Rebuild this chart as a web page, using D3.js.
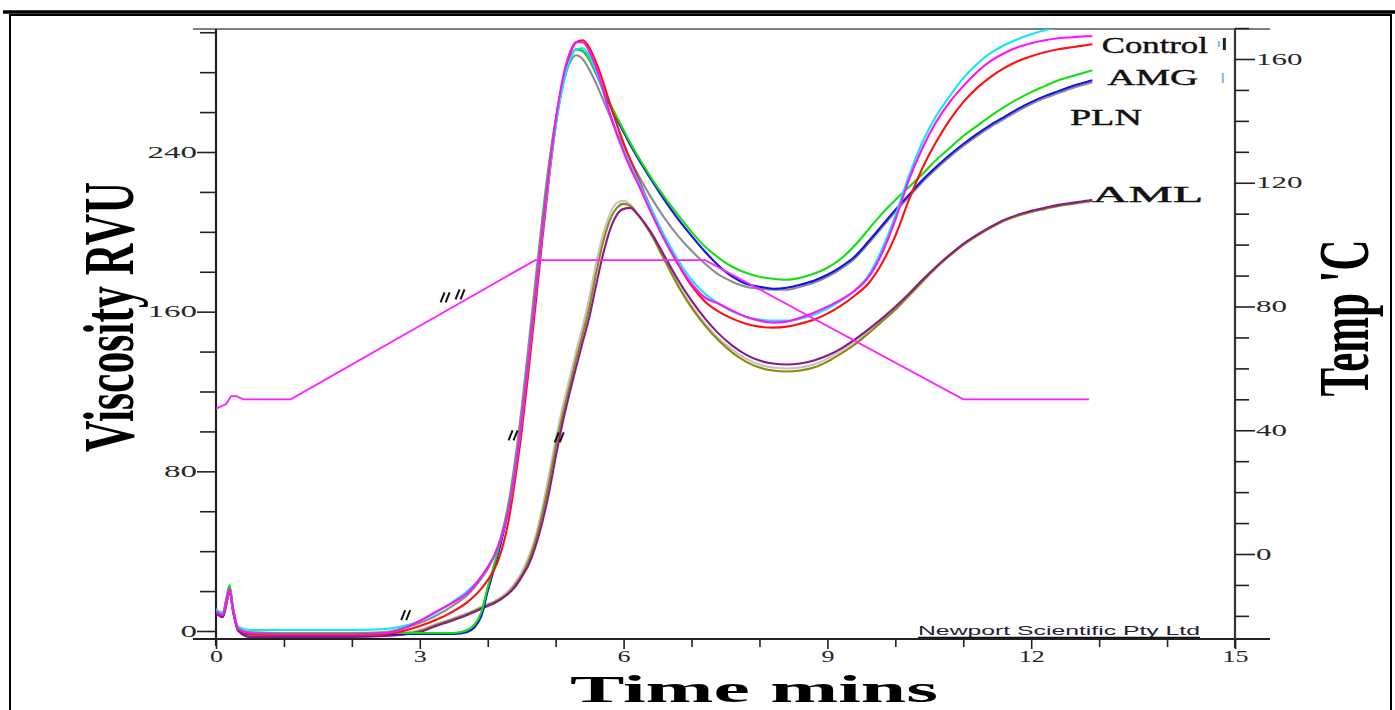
<!DOCTYPE html>
<html>
<head>
<meta charset="utf-8">
<script src="https://cdn.jsdelivr.net/npm/d3@7"></script>
<style>
  body { margin: 0; background: #fff; }
  svg { display: block; }
</style>
</head>
<body>
<svg id="chart" width="1395" height="710"></svg>
<script>
// ---- RVA pasting profiles: viscosity (RVU) against time (min) ----
const time = [
  0, 0.1, 0.15, 0.2, 0.25, 0.33, 0.5, 1, 1.5, 2, 2.5,
  2.7, 3, 3.2, 3.5, 3.7, 3.9, 4, 4.1, 4.2, 4.3, 4.4, 4.5, 4.6,
  4.7, 4.8, 4.9, 5, 5.1, 5.2, 5.3, 5.4, 5.5, 5.6, 5.7, 5.8, 5.9, 6, 6.1, 6.2,
  6.4, 6.6, 6.8, 7, 7.2, 7.4, 7.6, 7.8, 8, 8.2, 8.4, 8.6, 8.8, 9, 9.2, 9.4, 9.6, 9.8,
  10, 10.2, 10.4, 10.6, 10.8, 11, 11.2, 11.4, 11.6, 11.8, 12, 12.2, 12.4, 12.6, 12.8, 12.9
];

const cyanRun = [
  11, 9, 15, 21, 11, 2, 0.5, 0.5, 0.5, 0.5, 1,
  2, 5, 8.5, 15, 20, 27, 32, 38, 47, 60, 80, 106, 136,
  168, 199, 228, 253, 272, 285, 291.5, 292, 288, 280, 270, 259, 249.5, 241, 233.5, 226.5,
  212, 198, 186, 176, 169, 164, 160, 157.5, 156, 155.5, 155.5, 156.5, 158.5, 161.5, 165.5, 170.5, 178, 191,
  208, 228, 245, 258, 268, 277, 284, 289.5, 293.5, 296.5, 299, 301, 302.5, 303.5, 304.5, 305
];
const magentaRun = [
  10, 8, 15, 21, 11, 1, -1, -1.5, -1.5, -1.5, -1,
  0.5, 5, 9, 14.5, 19, 27, 32, 38, 47, 60, 80, 106, 136,
  168, 200, 230, 256, 276, 289, 295, 295, 290, 282, 271, 259, 249, 240, 232, 225,
  210, 196, 184, 174, 167, 164, 160.5, 157.5, 155.5, 154.5, 155, 157, 159.5, 162.5, 166, 170.5, 177, 189,
  206, 226, 242, 255, 265, 273, 280, 285.5, 289.5, 292.5, 294.5, 296, 297, 297.5, 298, 298
];
const redRun = [
  10, 8, 14, 20, 11, 1, -1.5, -2, -2, -2, -1.5,
  -0.5, 2.5, 5, 10, 14.5, 21, 25.5, 31, 40, 54, 75, 100, 130,
  162, 195, 226, 253, 274, 288, 295, 296, 292, 284.5, 275, 264, 254, 244.5, 236, 228,
  212, 197, 184, 173, 165, 160, 156.5, 154, 152.5, 152, 152.5, 154, 156, 159, 163, 168, 174, 184,
  198, 216, 232, 245, 256, 265, 272, 277.5, 282, 285.5, 288, 290, 291.5, 292.5, 293.5, 294
];
const greenRun = [
  10, 9, 16, 23, 12, 1, -1, -1, -1, -1, -1,
  -1, -1, -1, -1, 0.5, 9, 22, 34, 47, 62, 82, 108, 138,
  170, 203, 232, 256, 274, 286, 291.5, 290.5, 286, 279.5, 272, 264.5, 257.5, 251, 244.5, 238.5,
  227.5, 217.5, 208.5, 200, 192.5, 187, 182.5, 179.5, 177.5, 176.5, 176, 177, 179, 182, 186.5, 193, 201, 209,
  216, 222.5, 229, 236, 242, 248, 253, 258, 262.5, 266.5, 270, 273, 276, 278, 280, 281
];
const blueRun = [
  10, 8, 15, 22, 11, 1, -1.5, -1.5, -1.5, -1.5, -1.5,
  -1.5, -1.5, -1.5, -1.5, -0.5, 7, 20, 32, 45, 60, 80, 106, 136,
  168, 201, 230, 255, 273, 285.5, 291.5, 290.5, 286, 279, 271, 263.5, 256.5, 250, 243.5, 237.5,
  226.5, 216, 206.5, 198, 190, 183, 177.5, 174, 172.5, 171.5, 172, 173.5, 175.5, 178.5, 182.5, 187.5, 195, 203,
  211, 218.5, 226, 232.5, 238.5, 244, 249, 253.5, 257.5, 261.5, 265, 268, 270.5, 273, 275, 276
];
const grayRun = [
  10, 8, 14, 21, 11, 1, -0.5, -1, -1, -1, -0.5,
  1, 4, 7, 13, 18, 26, 31, 38, 48, 63, 85, 112, 143,
  175, 206, 234, 256, 273, 284, 288.5, 286.5, 281, 274, 266, 258, 250, 243, 236, 229.5,
  217.5, 207, 198, 190.5, 184, 178.5, 175, 172.5, 171.5, 171, 171, 172.5, 174.5, 177.5, 181.5, 186.5, 194, 202,
  210, 217.5, 225, 231.5, 237.5, 243, 248, 252.5, 256.5, 260.5, 264, 267, 269.5, 272, 274, 275
];
const oliveRun = [
  9, 7, 13, 20, 10, 0, -2, -2.5, -2.5, -2.5, -2,
  -1.5, 0, 2.5, 6, 8.5, 11.5, 13, 14.5, 16.5, 19, 23, 28, 35,
  45, 58, 74, 92, 108, 122, 136, 149, 163, 180, 195, 206, 212, 214, 213, 209,
  199, 186, 173, 162, 153, 145.5, 139.5, 135, 132, 130.5, 130, 130.5, 132, 135, 139, 143.5, 149, 155,
  161, 168, 175, 182, 188, 193.5, 198, 202, 205.5, 208, 210, 211.5, 213, 214, 215, 215.5
];
const purpleRun = [
  9, 7, 13, 20, 10, 0, -3, -3, -3, -3, -2.5,
  -2, -0.5, 2, 5.5, 8, 11, 12.5, 14, 16, 18.5, 22, 27, 33,
  42, 54, 69, 87, 104, 118.5, 132, 145, 158, 174, 189, 201, 208.5, 211.5, 212, 209,
  200, 188, 176, 165.5, 156.5, 149, 143, 138.5, 135.5, 134, 133.5, 134, 135.5, 138, 141.5, 146, 151, 156.5,
  162.5, 169, 176, 182.5, 188.5, 194, 198.5, 202.5, 206, 208.5, 210.5, 212, 213.5, 214.5, 215.5, 216
];
const silverRun = [
  9, 7, 13, 20, 10, 0, -2, -2, -2, -2, -1.5,
  -1, 0.5, 3, 6.5, 9, 12, 13.5, 15, 17, 20, 24, 29.5, 37,
  47, 61, 78, 96, 112, 126, 140, 153, 168, 185, 199, 209, 214.5, 215.5, 213.5, 209.5,
  199, 186.5, 174, 163, 154, 146.5, 141, 136.5, 133.5, 132, 131.5, 132, 133.5, 136.5, 140.5, 145, 150.5, 156,
  162, 168.5, 175.5, 182, 188, 193.5, 198, 202, 205.5, 208, 210, 211.5, 213, 214, 215, 215.5
];

// Standard temperature programme (°C)
const tempTime   = [0, 0.15, 0.22, 0.3, 0.4, 1.1, 4.7, 7.2, 11.0, 12.85];
const tempValues = [47, 48.5, 51, 51, 50, 50, 95, 95, 50, 50];

// Run labels at the end of the curves
const runLabels = ["Control", "AMG", "PLN", "AML"];
const labelTime = [13.04, 13.12, 12.57, 12.9];
const labelVisc = [289.6, 273.6, 253.5, 215];

// Pasting-point markers: [time, value, axis]
const markTime  = [2.8, 4.38, 5.06, 3.38, 3.6];
const markValue = [8, 98, 97, 81, 82];
const markAxis  = ["visc", "visc", "visc", "temp", "temp"];

// Axis ticks
const timeTicks  = d3.range(0, 16, 1);
const timeLabels = [0, 3, 6, 9, 12, 15];
const viscTicks  = d3.range(0, 301, 20);
const viscLabels = [0, 80, 160, 240];
const tempTicks  = d3.range(-20, 171, 10);
const tempLabels = [0, 40, 80, 120, 160];

// ---- drawing ----
const svg = d3.select("#chart");
const L = 216, R = 1235, T = 29, B = 639;

const x  = d3.scaleLinear().domain([0, 15]).range([L, R]);
const y  = d3.scaleLinear().domain([0, 240]).range([631, 152]);
const yT = d3.scaleLinear().domain([0, 160]).range([554, 59]);

const serif = "'Liberation Serif', 'Times New Roman', serif";

// page frame
svg.append("line").attr("x1", 3).attr("x2", 1395).attr("y1", 12).attr("y2", 12)
  .attr("stroke", "#000").attr("stroke-width", 3.5);
svg.append("rect").attr("x", 10).attr("y", 15).attr("width", 1381).attr("height", 705)
  .attr("fill", "none").attr("stroke", "#000").attr("stroke-width", 2);

// clip region for the curves
svg.append("defs").append("clipPath").attr("id", "plotClip")
  .append("rect").attr("x", L).attr("y", T).attr("width", R - L).attr("height", B - T);

// plot frame lines
svg.append("line").attr("x1", 193).attr("x2", 1270).attr("y1", T).attr("y2", T)
  .attr("stroke", "#555").attr("stroke-width", 1.5);
svg.append("line").attr("x1", 193).attr("x2", 1270).attr("y1", B).attr("y2", B)
  .attr("stroke", "#222").attr("stroke-width", 2);
svg.append("line").attr("x1", L).attr("x2", L).attr("y1", T).attr("y2", B + 7)
  .attr("stroke", "#222").attr("stroke-width", 2.2);
svg.append("line").attr("x1", R).attr("x2", R).attr("y1", T).attr("y2", B + 9)
  .attr("stroke", "#333").attr("stroke-width", 2.2);

function styleAxis(g, perChar) {
  g.select(".domain").remove();
  g.selectAll(".tick line").attr("stroke", "#222").attr("stroke-width", 1.6);
  g.selectAll(".tick text")
    .attr("font-family", serif).attr("font-size", 16).attr("fill", "#262626")
    .each(function () {
      const s = d3.select(this).text();
      if (s.length) d3.select(this).attr("textLength", s.length * perChar)
        .attr("lengthAdjust", "spacingAndGlyphs");
    });
}

// left viscosity axis
const gLeft = svg.append("g").attr("transform", `translate(${L},0)`)
  .call(d3.axisLeft(y).tickValues(viscTicks).tickSize(16).tickPadding(3)
    .tickFormat(d => viscLabels.includes(d) ? d : ""));
styleAxis(gLeft, 16.5);
gLeft.selectAll(".tick").filter(d => viscLabels.includes(d)).select("line").attr("x2", -19);
gLeft.selectAll(".tick text").attr("x", -19);

// right temperature axis
const gRight = svg.append("g").attr("transform", `translate(${R},0)`)
  .call(d3.axisRight(yT).tickValues(tempTicks).tickSize(14).tickPadding(3)
    .tickFormat(d => tempLabels.includes(d) ? d : ""));
styleAxis(gRight, 15.5);
gRight.selectAll(".tick").filter(d => tempLabels.includes(d)).select("line").attr("x2", 20);
gRight.selectAll(".tick text").attr("x", 21);

// bottom time axis
const gBottom = svg.append("g").attr("transform", `translate(0,${B})`)
  .call(d3.axisBottom(x).tickValues(timeTicks).tickSize(8).tickPadding(5)
    .tickFormat(d => timeLabels.includes(d) ? d : ""));
styleAxis(gBottom, 13);
gBottom.selectAll(".tick").filter(d => timeLabels.includes(d)).select("line").attr("y2", 10);
gBottom.selectAll(".tick text").attr("y", 12);

// axis titles
svg.append("text")
  .attr("transform", `translate(133,317) rotate(-90)`)
  .attr("text-anchor", "middle").attr("font-family", serif).attr("font-weight", "bold")
  .attr("font-size", 71).attr("textLength", 270).attr("lengthAdjust", "spacingAndGlyphs")
  .attr("fill", "#000").text("Viscosity RVU");
svg.append("text")
  .attr("transform", `translate(1368,318) rotate(-90)`)
  .attr("text-anchor", "middle").attr("font-family", serif).attr("font-weight", "bold")
  .attr("font-size", 71).attr("textLength", 157).attr("lengthAdjust", "spacingAndGlyphs")
  .attr("fill", "#000").text("Temp 'C");
svg.append("text")
  .attr("x", 754).attr("y", 701.5)
  .attr("text-anchor", "middle").attr("font-family", serif).attr("font-weight", "bold")
  .attr("font-size", 38).attr("textLength", 368).attr("lengthAdjust", "spacingAndGlyphs")
  .attr("fill", "#000").text("Time mins");

// instrument credit
svg.append("text")
  .attr("x", R - 35).attr("y", 635).attr("text-anchor", "end")
  .attr("font-family", "'Liberation Sans', Arial, sans-serif").attr("font-size", 13)
  .attr("textLength", 282).attr("lengthAdjust", "spacingAndGlyphs")
  .attr("fill", "#223").text("Newport Scientific Pty Ltd");
svg.append("line").attr("x1", R - 317).attr("x2", R - 35).attr("y1", 637.5).attr("y2", 637.5)
  .attr("stroke", "#111").attr("stroke-width", 1.6);

// curves
const plot = svg.append("g").attr("clip-path", "url(#plotClip)");
const viscLine = d3.line().x(d => x(d[0])).y(d => y(d[1])).curve(d3.curveMonotoneX);
const tempLine = d3.line().x(d => x(d[0])).y(d => yT(d[1]));

const runs = [
  { values: silverRun,  color: "#c4c4c4" },
  { values: oliveRun,   color: "#8a8a10" },
  { values: purpleRun,  color: "#8a1a8a" },
  { values: grayRun,    color: "#8c8c8c" },
  { values: blueRun,    color: "#1010f0" },
  { values: greenRun,   color: "#10e010" },
  { values: redRun,     color: "#ff1010" },
  { values: cyanRun,    color: "#10e8f0" },
  { values: magentaRun, color: "#ff10ff" }
];

plot.selectAll("path.run").data(runs).join("path")
  .attr("class", "run")
  .attr("d", r => viscLine(time.map((t, i) => [t, r.values[i]])))
  .attr("fill", "none").attr("stroke", r => r.color).attr("stroke-width", 2.1);

plot.append("path")
  .attr("d", tempLine(tempTime.map((t, i) => [t, tempValues[i]])))
  .attr("fill", "none").attr("stroke", "#ff20ff").attr("stroke-width", 1.8);

// pasting markers (small double strokes)
markTime.forEach((t, i) => {
  const px = x(t);
  const py = markAxis[i] === "temp" ? yT(markValue[i]) - 6 : y(markValue[i]);
  const g = plot.append("g").attr("stroke", "#111").attr("stroke-width", 2).attr("fill", "none");
  g.append("path").attr("d", `M${px - 5},${py + 5} L${px - 1},${py - 5}`);
  g.append("path").attr("d", `M${px},${py + 5} L${px + 4},${py - 5}`);
});

// run labels
const labelWidths = [106, 91, 72, 111];
runLabels.forEach((name, i) => {
  svg.append("text")
    .attr("x", x(labelTime[i])).attr("y", y(labelVisc[i]))
    .attr("font-family", serif).attr("font-size", 24)
    .attr("textLength", labelWidths[i]).attr("lengthAdjust", "spacingAndGlyphs")
    .attr("fill", "#111").attr("stroke", "#111").attr("stroke-width", 0.4)
    .text(name);
});

// small instrument tags beside the first two labels
const tagX = x(labelTime[0]) + labelWidths[0] + 10;
svg.append("rect").attr("x", tagX).attr("y", y(labelVisc[0]) - 12).attr("width", 2).attr("height", 6)
  .attr("fill", "#7ab8ff");
svg.append("rect").attr("x", tagX + 5).attr("y", y(labelVisc[0]) - 15).attr("width", 3).attr("height", 12)
  .attr("fill", "#222");
svg.append("rect").attr("x", tagX + 4).attr("y", y(labelVisc[1]) - 12).attr("width", 2).attr("height", 10)
  .attr("fill", "#7ab8ff");
</script>
</body>
</html>
